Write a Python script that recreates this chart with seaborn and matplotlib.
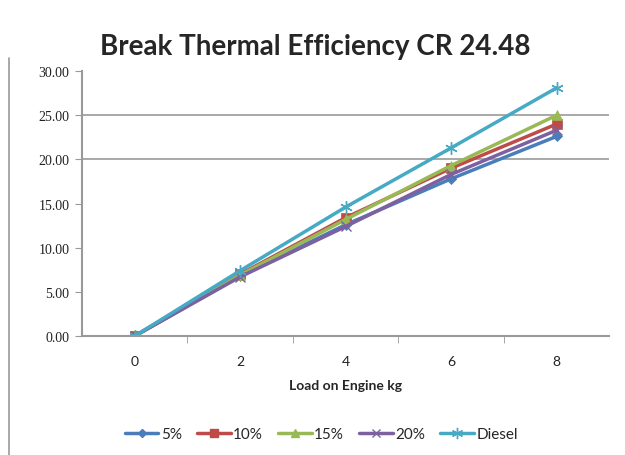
import matplotlib
matplotlib.use("Agg")
import matplotlib.pyplot as plt
import seaborn as sns
import pandas as pd
from matplotlib.lines import Line2D

loads = [0, 2, 4, 6, 8]
bte_5 = [0.0, 6.8, 12.6, 17.8, 22.6]
bte_10 = [0.0, 7.0, 13.4, 19.0, 24.0]
bte_15 = [0.0, 6.9, 13.2, 19.3, 25.0]
bte_20 = [0.0, 6.7, 12.4, 18.3, 23.3]
bte_diesel = [0.0, 7.4, 14.6, 21.3, 28.1]
series_names = ["5%", "10%", "15%", "20%", "Diesel"]
y_ticks = [0, 5, 10, 15, 20, 25, 30]

colors = ["#4A7EBB", "#BE4B48", "#98B954", "#7D60A0", "#46AAC5"]
markers = ["D", "s", "^", "x", (6, 2, 0)]
msizes = [5, 7, 7, 7, 9]

sns.set_style("white")
plt.rcParams['font.family'] = ['Lato', 'DejaVu Sans']

rows = []
for name, vals in zip(series_names, [bte_5, bte_10, bte_15, bte_20, bte_diesel]):
    for x, v in zip(loads, vals):
        rows.append({"Load": x, "BTE": v, "Fuel": name})
df = pd.DataFrame(rows)

fig = plt.figure(figsize=(6.25, 4.56), dpi=100)
ax = fig.add_axes([0.1312, 0.261, 0.8438, 0.581])

for name, c, m, ms in zip(series_names, colors, markers, msizes):
    sub = df[df["Fuel"] == name]
    sns.lineplot(data=sub, x="Load", y="BTE", ax=ax, color=c, marker=m,
                 markersize=ms, linewidth=2.5, markeredgecolor=c,
                 markeredgewidth=1.0 if m in ("x", (6, 2, 0)) else 0.5,
                 label=name, legend=False)

ax.set_xlim(-1, 9)
ax.set_ylim(0, 30)
ax.set_xticks(loads)
ax.set_xticklabels([str(v) for v in loads])
ax.set_xticks([1, 3, 5, 7], minor=True)
ax.tick_params(axis='x', which='major', length=0, pad=14, labelsize=10, colors='#222222')
ax.tick_params(axis='x', which='minor', length=5, color='#999999', direction='out', bottom=True)
ax.set_yticks(y_ticks)
ax.set_yticklabels([f"{v:.2f}" for v in y_ticks], family=['Liberation Serif', 'DejaVu Serif'])
ax.tick_params(axis='y', length=5, color='#999999', direction='out', left=True, labelsize=10, colors='#222222', pad=4)
ax.tick_params(axis='y', colors='#999999', labelcolor='#222222')

for gy in [20, 25]:
    ax.axhline(gy, color='#999999', linewidth=1.2, zorder=0)

for s in ['top', 'right']:
    ax.spines[s].set_visible(False)
for s in ['left', 'bottom']:
    ax.spines[s].set_color('#999999')
    ax.spines[s].set_linewidth(1.5)

ax.set_xlabel("Load on Engine kg", fontsize=10, fontweight='bold', labelpad=8)
ax.set_ylabel("")

fig.text(0.505, 0.898, "Break Thermal Efficiency CR 24.48", ha='center', va='center',
         fontsize=20, fontweight='bold')

handles = [Line2D([0], [0], color=c, marker=m, markersize=ms * 0.9, linewidth=2.5,
                  markeredgecolor=c, markeredgewidth=1.0) for c, m, ms in zip(colors, markers, msizes)]
fig.legend(handles, series_names, loc='center', bbox_to_anchor=(0.514, 0.045), ncol=5,
           frameon=False, fontsize=11, handlelength=2.2, columnspacing=1.0, handletextpad=0.15)

fig.add_artist(Line2D([0.014, 0.014], [0.0, 0.87], transform=fig.transFigure, color='#999999', linewidth=1.2))

fig.savefig("out.png", dpi=100)
